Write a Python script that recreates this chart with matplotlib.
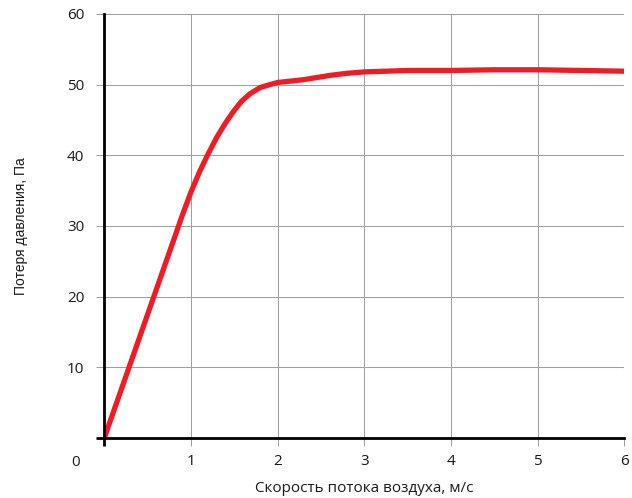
import numpy as np
import matplotlib.pyplot as plt

# air speed, m/s  vs  pressure loss, Pa
speed = [0, 0.3, 0.6, 0.9, 1.0, 1.1, 1.19, 1.3, 1.4, 1.49, 1.58, 1.68,
         1.8, 1.91, 2.0, 2.15, 2.3, 2.45, 2.6, 2.8, 3.0, 3.25, 3.5, 4.0,
         4.5, 5.0, 5.5, 6.0]
loss = [0, 10.5, 21, 31.5, 34.8, 37.7, 40, 42.6, 44.6, 46.2, 47.6, 48.7,
        49.6, 50.0, 50.3, 50.5, 50.7, 51.0, 51.3, 51.6, 51.8, 51.9, 52.0, 52.0,
        52.1, 52.1, 52.0, 51.9]

xticks = [0, 1, 2, 3, 4, 5, 6]
yticks = [0, 10, 20, 30, 40, 50, 60]

plt.rcParams['font.family'] = ['Open Sans', 'DejaVu Sans']

fig = plt.figure(figsize=(6.32, 4.98), dpi=100)
ax = fig.add_axes([0.165, 0.1205, 0.823, 0.8515])

ax.plot(speed, loss, color='#ee1c25', linewidth=3.8,
        solid_joinstyle='round', solid_capstyle='round', zorder=3)

ax.set_xlim(0, 6)
ax.set_ylim(0, 60)
ax.set_xticks(xticks)
ax.set_yticks(yticks)
ax.set_xticklabels([''] + [str(t) for t in xticks[1:]])
ax.set_yticklabels([''] + [str(t) for t in yticks[1:]])

ax.grid(True, color='#a0a0a0', linewidth=0.75)
ax.set_axisbelow(True)

for s in ['top', 'right']:
    ax.spines[s].set_visible(False)
for s in ['left', 'bottom']:
    ax.spines[s].set_linewidth(2.0)
    ax.spines[s].set_color('black')
    ax.spines[s].set_zorder(4)

ax.tick_params(axis='both', color='#a0a0a0', width=0.75, length=5.5,
               labelsize=11, labelcolor='#1a1a1a', pad=6)
ax.tick_params(axis='y', pad=9)
# the tick at zero continues the black axis line
for t in [ax.xaxis.get_major_ticks()[0], ax.yaxis.get_major_ticks()[0]]:
    t.tick1line.set_markeredgecolor('black')
    t.tick1line.set_markeredgewidth(2.0)

ax.text(-0.055, -0.057, '0', transform=ax.transAxes, fontsize=11,
        color='#1a1a1a', ha='center', va='center')

ax.set_xlabel('Скорость потока воздуха, м/с', fontsize=11, color='#1a1a1a',
              labelpad=9)
ax.set_ylabel('Потеря давления, Па', fontsize=10, color='#1a1a1a',
              family=['Liberation Sans', 'DejaVu Sans'], labelpad=28)

fig.savefig('out.png', dpi=100)
